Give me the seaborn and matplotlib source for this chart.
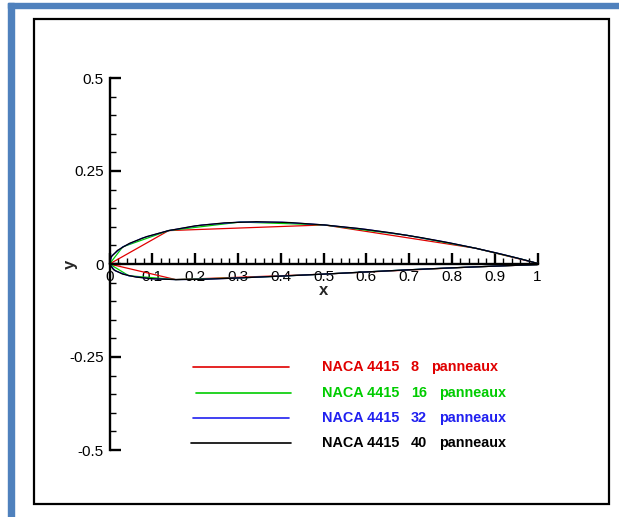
import numpy as np
import pandas as pd
import matplotlib
matplotlib.use("Agg")
import matplotlib.pyplot as plt
from matplotlib.patches import Rectangle
from matplotlib.ticker import MultipleLocator
import seaborn as sns

# NACA 4415 panel vertices (upper / lower surface, leading edge -> trailing edge)
xu8 = [0.0000, 0.1381, 0.5015, 0.8561, 1.0002]
yu8 = [0.0000, 0.0898, 0.1050, 0.0422, 0.0016]
xl8 = [0.0000, 0.1548, 0.4985, 0.8510, 0.9998]
yl8 = [0.0000, -0.0419, -0.0273, -0.0079, -0.0016]

xu16 = [0.0000, 0.0310, 0.1381, 0.3052, 0.5015, 0.6944, 0.8561, 0.9629, 1.0002]
yu16 = [0.0000, 0.0461, 0.0898, 0.1128, 0.1050, 0.0773, 0.0422, 0.0129, 0.0016]
xl16 = [0.0000, 0.0451, 0.1548, 0.3121, 0.4985, 0.6883, 0.8510, 0.9609, 0.9998]
yl16 = [0.0000, -0.0316, -0.0419, -0.0370, -0.0273, -0.0162, -0.0079, -0.0031, -0.0016]

xu32 = [0.0000, 0.0056, 0.0310, 0.0757, 0.1381, 0.2157, 0.3052, 0.4025, 0.5015, 0.6001,
        0.6944, 0.7808, 0.8561, 0.9175, 0.9629, 0.9908, 1.0002]
yu32 = [0.0000, 0.0224, 0.0461, 0.0693, 0.0898, 0.1049, 0.1128, 0.1124, 0.1050, 0.0929,
        0.0773, 0.0598, 0.0422, 0.0260, 0.0129, 0.0045, 0.0016]
xl32 = [0.0000, 0.0136, 0.0451, 0.0928, 0.1548, 0.2287, 0.3121, 0.4024, 0.4985, 0.5950,
        0.6883, 0.7748, 0.8510, 0.9140, 0.9609, 0.9900, 0.9998]
yl32 = [0.0000, -0.0186, -0.0316, -0.0392, -0.0419, -0.0407, -0.0370, -0.0324, -0.0273, -0.0216,
        -0.0162, -0.0116, -0.0079, -0.0051, -0.0031, -0.0020, -0.0016]

xu40 = [0.0000, 0.0029, 0.0185, 0.0467, 0.0868, 0.1381, 0.1991, 0.2683, 0.3435, 0.4221, 0.5015,
        0.5806, 0.6574, 0.7301, 0.7968, 0.8561, 0.9064, 0.9468, 0.9763, 0.9942, 1.0002]
yu40 = [0.0000, 0.0178, 0.0366, 0.0556, 0.0737, 0.0898, 0.1024, 0.1106, 0.1137, 0.1114, 0.1050,
        0.0957, 0.0839, 0.0705, 0.0563, 0.0422, 0.0290, 0.0177, 0.0090, 0.0034, 0.0016]
xl40 = [0.0000, 0.0094, 0.0304, 0.0623, 0.1042, 0.1548, 0.2131, 0.2777, 0.3475, 0.4214, 0.4985,
        0.5759, 0.6516, 0.7239, 0.7910, 0.8510, 0.9026, 0.9442, 0.9748, 0.9935, 0.9998]
yl40 = [0.0000, -0.0153, -0.0271, -0.0353, -0.0401, -0.0419, -0.0412, -0.0387, -0.0352, -0.0315, -0.0273,
        -0.0227, -0.0183, -0.0142, -0.0107, -0.0079, -0.0056, -0.0038, -0.0026, -0.0018, -0.0016]

panel_counts = ["8", "16", "32", "40"]
colors = ["#E00000", "#00CC00", "#2020F0", "#000000"]
legend_labels = ["NACA 4415", "NACA 4415", "NACA 4415", "NACA 4415"]

xticks = [0, 0.1, 0.2, 0.3, 0.4, 0.5, 0.6, 0.7, 0.8, 0.9, 1]
xticklabels = ["0", "0.1", "0.2", "0.3", "0.4", "0.5", "0.6", "0.7", "0.8", "0.9", "1"]
yticks = [-0.5, -0.25, 0, 0.25, 0.5]
yticklabels = ["-0.5", "-0.25", "0", "0.25", "0.5"]

surfaces = {
    "8": (xu8, yu8, xl8, yl8),
    "16": (xu16, yu16, xl16, yl16),
    "32": (xu32, yu32, xl32, yl32),
    "40": (xu40, yu40, xl40, yl40),
}

# one closed contour per discretisation: TE -> lower -> LE -> upper -> TE
rows = []
for n in panel_counts:
    xu, yu, xl, yl = surfaces[n]
    xs = list(reversed(xl)) + list(xu[1:])
    ys = list(reversed(yl)) + list(yu[1:])
    for i, (a, b) in enumerate(zip(xs, ys)):
        rows.append((n, i, a, b))
df = pd.DataFrame(rows, columns=["panels", "order", "x", "y"])

sns.set_style("white")
plt.rcParams["font.family"] = ["Liberation Sans", "DejaVu Sans"]

W, H = 619, 517
fig = plt.figure(figsize=(W / 100, H / 100), dpi=100)
blue = "#4F81BD"
fig.patches.append(Rectangle((8 / W, 0), 6 / W, (H - 3) / H, transform=fig.transFigure,
                             color=blue, zorder=0))
fig.patches.append(Rectangle((8 / W, (H - 8) / H), (W - 8) / W, 5 / H, transform=fig.transFigure,
                             color=blue, zorder=0))
fig.patches.append(Rectangle((33.5 / W, (H - 504) / H), 575 / W, 485 / H, transform=fig.transFigure,
                             fill=False, edgecolor="black", linewidth=1.6, zorder=0))

ax = fig.add_axes([109.5 / W, (H - 450) / H, 428 / W, 372 / H])
ax.patch.set_alpha(0)
sns.lineplot(data=df, x="x", y="y", hue="panels", hue_order=panel_counts,
             palette=dict(zip(panel_counts, colors)), sort=False, estimator=None,
             legend=False, linewidth=0.9, ax=ax, clip_on=False)

ax.set_xlim(0, 1)
ax.set_ylim(-0.5, 0.5)
ax.set_xlabel("")
ax.set_ylabel("")
for s in ("top", "right"):
    ax.spines[s].set_visible(False)
ax.spines["bottom"].set_position(("data", 0))
for s in ("left", "bottom"):
    ax.spines[s].set_linewidth(1.7)
    ax.spines[s].set_color("black")

ax.set_xticks(xticks)
ax.set_xticklabels(xticklabels)
ax.set_yticks(yticks)
ax.set_yticklabels(yticklabels)
ax.xaxis.set_minor_locator(MultipleLocator(0.02))
ax.yaxis.set_minor_locator(MultipleLocator(0.05))
ax.tick_params(which="both", bottom=True, left=True, top=False, right=False,
               direction="in", colors="black")
ax.tick_params(which="major", length=8, width=1.7, labelsize=11, pad=4)
ax.tick_params(which="minor", length=4.3, width=1.0)

ax.text(0.5, -0.07, "x", ha="center", va="center", fontsize=12, fontweight="bold")
ax.text(-0.092, 0, "y", ha="center", va="center", fontsize=12, fontweight="bold", rotation=90)

# key drawn inside the frame
key_rows = [
    # line x0, line x1, y, number x, word x (axes fraction)
    (0.195, 0.419, 0.222, 0.704, 0.751),
    (0.202, 0.424, 0.153, 0.704, 0.770),
    (0.195, 0.419, 0.085, 0.704, 0.770),
    (0.190, 0.424, 0.020, 0.704, 0.770),
]
for (x0, x1, y, xn, xw), n, c, lab in zip(key_rows, panel_counts, colors, legend_labels):
    ax.plot([x0, x1], [y, y], color=c, linewidth=1.2, transform=ax.transAxes, clip_on=False)
    kw = dict(color=c, fontsize=10.4, fontweight="bold", va="center", ha="left",
              transform=ax.transAxes)
    ax.text(0.4965, y, lab, **kw)
    ax.text(xn, y, n, **kw)
    ax.text(xw, y, "panneaux", **kw)

fig.savefig("out.png", dpi=100)
